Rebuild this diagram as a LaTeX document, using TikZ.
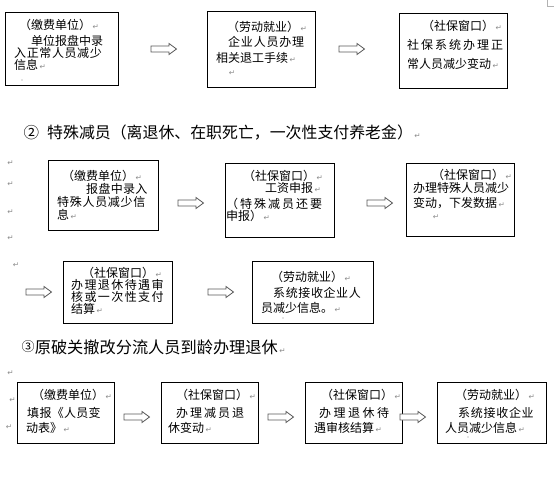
\documentclass[tikz,border=0pt]{standalone}
\usepackage{fontspec}
\newfontfamily\cjk{Noto Sans CJK SC}
\newfontfamily\dv{DejaVu Sans}
\usetikzlibrary{fit}
\definecolor{retgray}{gray}{0.55}
\makeatletter
\let\spc@end\relax
\newcommand\spc[2]{\def\spc@gap{#1}\spc@loop#2\spc@end}
\def\spc@loop#1{\ifx#1\spc@end\else#1\hspace{\spc@gap}\expandafter\spc@loop\fi}
\makeatother
\newcommand\ret{{\hspace{1.5pt}\dv\fontsize{7.5}{7.5}\selectfont\color{retgray}↵}}
\newcommand\barr[3]{\coordinate (#1) at (#2,#3);
  \draw[barrow] (#1) ++(0,-3) -- ++(18,0) -- ++(0,-2.5) -- ++(7.5,5.5) -- ++(-7.5,5.5) -- ++(0,-2.5) -- ++(-18,0) -- cycle;}
\begin{document}
\begin{tikzpicture}[x=1pt,y=-1pt,
  box/.style={draw=black,line width=0.9pt,inner sep=0pt},
  ln/.style={anchor=west,inner sep=0pt,font=\cjk\fontsize{12}{12}\selectfont},
  hdnum/.style={anchor=west,inner sep=0pt,font=\cjk\fontsize{12}{12}\selectfont},
  hd/.style={anchor=west,inner sep=0pt,font=\cjk\fontsize{15.9}{16}\selectfont},
  retn/.style={inner sep=0pt,text=retgray,font=\dv\fontsize{7.5}{7.5}\selectfont},
  barrow/.style={draw=black!65,fill=white,line width=0.8pt,line join=miter}]
\fill[white] (0,0) rectangle (554,483);
\useasboundingbox (0,0) rectangle (554,483);
% corner mark
\draw[black!30,line width=0.6pt] (547.5,0) -- (547.5,6.7) -- (554,6.7);

% ---------- row 1 ----------
\node[box,fit={(5,12) (118,85)}] (A) {};
\node[ln] (a1) at (19,25) {（缴费单位）\ret};
\node[ln] (a2) at (31,41) {单位报盘中录};
\node[ln] (a3) at (14,52.5) {\spc{0.6pt}{入正常人员减少}};
\node[ln] (a4) at (14,65) {信息\ret};
\fill[black!45] (22,80) circle (0.7pt);

\node[box,fit={(207,11) (315,87)}] (B) {};
\node[ln] (b1) at (227,27) {（劳动就业）\ret};
\node[ln] (b2) at (228,42) {\spc{0.8pt}{企业人员办理}};
\node[ln] (b3) at (216,58) {相关退工手续\ret};
\node[retn] (b4) at (232,73) {↵};

\node[box,fit={(399,13) (507,88)}] (C) {};
\node[ln] (c1) at (422,26) {（社保窗口）\ret};
\node[ln] (c2) at (407,45) {\spc{2pt}{社保系统办理正}};
\node[ln] (c3) at (407,64) {常人员减少变动\ret};

\barr{ar1}{151}{49}
\barr{ar2}{339}{49}

% heading 2
\node[hdnum,font=\cjk\fontsize{15.5}{16}\selectfont] (h2n) at (23.5,133) {②};
\node[hd] (h2) at (47,133) {特殊减员（离退休、在职死亡，一次性支付养老金）\ret};

% ---------- row 2 ----------
\node[retn] (r1) at (10.6,163) {↵};
\node[retn] (r2) at (10.6,184) {↵};
\node[retn] (r3) at (10.6,212) {↵};
\node[retn] (r4) at (10.6,238) {↵};

\node[box,fit={(48,160) (158,230)}] (D) {};
\node[ln] (d1) at (62,176) {（缴费单位）\ret};
\node[ln] (d2) at (86,188.5) {\spc{0.3pt}{报盘中录入}};
\node[ln] (d3) at (57,202) {\spc{0.7pt}{特殊人员减少信}};
\node[ln] (d4) at (57,214.5) {息\ret};

\node[box,fit={(225,163) (334,237)}] (E) {};
\node[ln] (e1) at (243,176) {（社保窗口）\ret};
\node[ln] (e2) at (265,188) {工资申报\ret};
\node[ln] (e3) at (226,203.5) {\spc{2pt}{（特殊减员还要}};
\node[ln] (e4) at (226,215.5) {申报）\ret};

\node[box,fit={(406,163) (514,236)}] (F) {};
\node[ln] (f1) at (432,175) {（社保窗口）\ret};
\node[ln] (f2) at (413,188) {办理特殊人员减少};
\node[ln] (f3) at (413,203) {变动，下发数据\ret};
\node[retn] (f4) at (436,217) {↵};

\barr{ar3}{178}{203}
\barr{ar4}{367}{203}

% ---------- row 3 ----------
\node[retn] (r5) at (16,265) {↵};
\barr{ar5}{26}{292}

\node[box,fit={(63,261) (172,323)}] (G) {};
\node[ln] (g1) at (82,273) {（社保窗口）\ret};
\node[ln] (g2) at (71,284.5) {\spc{1.4pt}{办理退休待遇审}};
\node[ln] (g3) at (71,297) {\spc{1.4pt}{核或一次性支付}};
\node[ln] (g4) at (71,309) {结算\ret};

\barr{ar6}{208}{292}

\node[box,fit={(252,261) (373,323)}] (H) {};
\node[ln] (hh1) at (271,277) {（劳动就业）\ret};
\node[ln] (hh2) at (273,293) {\spc{0.6pt}{系统接收企业人}};
\node[ln] (hh3) at (261,308) {员减少信息。\ret};
\fill[black!45] (283,318) circle (0.7pt);

% heading 3
\node[hdnum,font=\cjk\fontsize{13}{13}\selectfont] (h3n) at (21.5,347) {③};
\node[hd,font=\cjk\fontsize{16.2}{16}\selectfont] (h3) at (34.6,347) {原破关撤改分流人员到龄办理退休\ret};

% ---------- row 4 ----------
\node[retn] (r6) at (10.6,373) {↵};
\node[retn] (r7) at (12.4,400) {↵};
\node[retn] (r8) at (9,427) {↵};

\node[box,fit={(17,382) (114,443)}] (I) {};
\node[ln] (i1) at (32,395) {（缴费单位）\ret};
\node[ln] (i2) at (27,413) {\spc{0.3pt}{填报《人员变}};
\node[ln] (i3) at (26,428) {动表》\ret};

\node[box,fit={(161.5,382) (258,443)}] (J) {};
\node[ln] (j1) at (176,395) {（社保窗口）\ret};
\node[ln] (j2) at (176,413) {\spc{2pt}{办理减员退}};
\node[ln] (j3) at (168,428) {休变动\ret};

\node[box,fit={(305,382) (402,443)}] (K) {};
\node[ln] (k1) at (321,395) {（社保窗口）\ret};
\node[ln] (k2) at (319,413) {\spc{2.5pt}{办理退休待}};
\node[ln] (k3) at (314,428) {遇审核结算\ret};

\node[box,fit={(437.5,382) (546,443)}] (L) {};
\node[ln] (l1) at (455,395) {（劳动就业）\ret};
\node[ln] (l2) at (458,413) {\spc{0.7pt}{系统接收企业}};
\node[ln] (l3) at (445,428) {人员减少信息\ret};
\fill[black!45] (468,437) circle (0.7pt);

\barr{ar7}{124}{417}
\barr{ar8}{268}{417}
\barr{ar9}{400}{417}
\end{tikzpicture}
\end{document}
